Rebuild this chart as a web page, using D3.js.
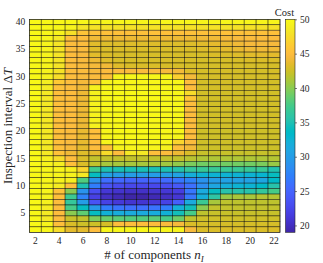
<!DOCTYPE html>
<html>
<head>
<meta charset="utf-8">
<script src="https://cdn.jsdelivr.net/npm/d3@7"></script>
<style>
  body { margin: 0; background: #fff; }
  svg { display: block; }
  text { font-family: "Liberation Serif", "DejaVu Serif", serif; fill: #262626; }
</style>
</head>
<body>
<svg id="chart" width="323" height="263"></svg>
<script>
// number of components (columns) and inspection intervals (rows, top to bottom)
var components = [2, 3, 4, 5, 6, 7, 8, 9, 10, 11, 12, 13, 14, 15, 16, 17, 18, 19, 20, 21, 22];
var intervals = [40, 39, 38, 37, 36, 35, 34, 33, 32, 31, 30, 29, 28, 27, 26, 25, 24, 23, 22, 21,
                 20, 19, 18, 17, 16, 15, 14, 13, 12, 11, 10, 9, 8, 7, 6, 5, 4, 3, 2];

// cost, one row per interval (same order as intervals)
var cost = [
  [49.8,49.8,49.8,49.8,49.6,49.5,49.5,49.5,49.5,49.5,49.5,49.5,49.5,49.5,49.5,49.5,49.5,49.5,49.5,49.5,49.5],
  [49.8,49.8,49.7,49.4,48.2,48.0,48.0,48.0,48.0,48.0,48.0,48.0,48.0,48.0,48.0,48.0,48.0,48.0,48.0,48.0,48.0],
  [49.8,49.7,49.4,47.8,45.6,45.4,45.4,45.4,45.4,45.4,45.4,45.4,45.4,45.4,45.4,45.4,45.4,45.4,45.4,45.4,45.4],
  [49.8,49.6,48.6,45.2,45.0,44.2,44.0,44.0,44.0,44.0,44.0,44.0,44.0,44.0,44.2,44.2,44.4,44.6,44.8,44.8,44.8],
  [49.8,49.5,48.3,45.0,44.8,43.4,43.2,43.2,43.2,43.2,43.2,43.2,43.2,43.2,43.4,43.6,43.8,44.2,44.5,44.5,44.5],
  [49.8,49.4,48.2,45.0,44.7,43.3,43.0,43.0,43.0,43.0,43.0,43.0,43.0,43.0,43.2,43.3,43.5,43.8,44.2,44.2,44.2],
  [49.8,49.4,48.2,45.0,44.6,43.4,43.0,42.9,42.9,42.9,42.9,42.9,42.9,42.9,42.9,43.0,43.0,43.2,43.4,43.5,43.5],
  [49.8,49.4,48.2,45.0,44.6,44.0,43.2,42.9,42.9,42.9,42.9,42.9,42.9,42.9,42.8,42.8,42.8,42.9,43.0,43.0,43.0],
  [49.8,49.4,48.1,45.0,44.7,44.4,44.2,43.3,43.0,43.0,43.0,42.9,42.9,42.8,42.8,42.8,42.8,42.8,42.8,42.8,42.8],
  [49.8,49.3,48.0,45.0,44.8,44.5,44.8,44.8,44.8,44.8,44.8,44.5,44.3,43.2,42.8,42.8,42.8,42.8,42.8,42.8,42.8],
  [49.8,49.2,47.6,45.0,44.7,44.8,45.2,49.4,49.6,49.6,49.6,49.4,46.5,44.3,42.8,42.8,42.8,42.8,42.8,42.8,42.8],
  [49.8,48.9,46.0,45.0,44.4,45.3,49.4,49.7,49.7,49.7,49.7,49.7,49.6,45.0,42.7,42.7,42.7,42.7,42.7,42.7,42.7],
  [49.8,48.7,45.4,45.0,44.2,49.2,49.7,49.7,49.7,49.7,49.7,49.7,49.7,45.0,42.7,42.7,42.7,42.7,42.7,42.7,42.7],
  [49.8,48.6,45.2,45.0,44.0,49.3,49.7,49.8,49.8,49.8,49.8,49.7,49.7,47.5,42.6,42.6,42.6,42.6,42.6,42.6,42.6],
  [49.8,48.5,45.2,45.0,44.0,49.3,49.7,49.8,49.8,49.8,49.8,49.7,49.7,45.8,42.6,42.6,42.6,42.6,42.6,42.6,42.6],
  [49.8,48.5,45.2,45.0,44.0,49.3,49.7,49.8,49.8,49.8,49.8,49.7,49.7,45.0,42.6,42.6,42.6,42.6,42.6,42.6,42.6],
  [49.8,48.5,45.2,45.0,44.0,49.3,49.7,49.8,49.8,49.8,49.8,49.7,49.7,45.0,42.6,42.6,42.6,42.6,42.6,42.6,42.6],
  [49.8,48.5,45.2,45.0,44.0,49.3,49.7,49.8,49.8,49.8,49.8,49.7,49.7,45.0,42.6,42.6,42.6,42.6,42.6,42.6,42.6],
  [49.8,48.5,45.2,45.0,44.0,49.3,49.7,49.8,49.8,49.8,49.8,49.7,49.7,45.0,42.6,42.6,42.6,42.6,42.6,42.6,42.6],
  [49.8,48.5,45.2,45.0,44.0,49.3,49.7,49.8,49.8,49.8,49.8,49.7,49.7,45.0,42.6,42.6,42.6,42.6,42.6,42.6,42.6],
  [49.8,48.5,45.2,44.8,43.8,45.2,49.6,49.8,49.8,49.8,49.8,49.7,49.6,45.0,42.5,42.5,42.5,42.5,42.5,42.5,42.5],
  [49.8,48.5,45.2,44.8,43.8,45.2,49.6,49.8,49.8,49.8,49.8,49.7,49.6,45.0,42.5,42.5,42.5,42.5,42.5,42.5,42.5],
  [49.8,48.5,45.2,44.7,43.7,45.1,49.5,49.7,49.7,49.7,49.7,49.6,47.0,44.8,42.5,42.5,42.5,42.5,42.5,42.5,42.5],
  [49.8,48.5,45.3,44.5,43.6,45.0,45.3,49.3,49.5,49.5,49.4,49.2,45.2,44.3,42.4,42.4,42.4,42.4,42.4,42.4,42.4],
  [49.8,48.6,45.5,44.2,43.2,43.5,47.5,45.0,48.5,48.5,45.2,45.0,44.0,43.0,42.2,42.2,42.2,42.2,42.2,42.2,42.2],
  [49.8,49.2,47.5,45.0,43.0,42.0,42.0,42.0,42.0,42.0,42.0,42.0,42.0,41.6,41.3,41.3,41.3,41.3,41.3,41.3,41.5],
  [49.8,49.5,49.0,45.3,43.0,42.0,41.0,41.0,41.0,41.0,41.0,40.8,40.3,39.5,39.2,39.2,39.2,39.2,39.2,39.5,40.5],
  [49.8,49.6,49.5,49.2,47.0,37.2,35.0,34.8,34.8,34.8,34.8,35.0,35.3,36.5,36.8,36.8,36.8,36.8,36.8,36.8,35.2],
  [49.8,49.6,49.5,49.3,48.5,34.0,30.5,30.0,30.0,30.0,30.0,30.2,30.6,32.0,32.5,32.5,32.5,32.5,32.5,32.8,34.0],
  [49.8,49.6,49.2,49.0,38.0,29.0,25.8,25.3,25.0,25.0,25.0,25.5,26.5,27.5,29.0,30.0,30.5,30.5,30.5,31.0,33.5],
  [49.8,49.6,48.8,45.2,35.0,27.0,23.5,22.8,22.5,22.5,22.5,23.0,24.0,26.0,28.5,31.0,32.0,32.5,32.5,33.5,35.5],
  [49.8,49.4,45.5,40.0,29.0,23.0,21.0,20.6,20.3,20.3,20.6,21.0,21.6,26.5,31.5,34.0,35.5,35.5,35.5,36.5,37.5],
  [49.8,49.3,45.2,37.0,27.5,21.8,20.2,19.5,19.0,19.0,19.5,20.2,21.0,26.5,32.0,36.0,40.5,41.0,41.0,41.5,41.5],
  [49.8,49.2,45.0,36.5,30.0,23.5,22.0,21.2,20.8,20.8,21.2,22.0,24.5,31.5,37.0,41.0,41.8,41.8,41.8,41.8,41.8],
  [49.8,48.8,45.0,37.5,34.0,29.5,27.0,26.2,25.8,25.8,26.2,27.0,32.0,34.5,40.0,42.0,42.0,42.0,42.0,42.0,42.0],
  [49.8,48.6,45.0,40.0,38.5,34.0,32.3,31.8,31.5,31.5,31.8,32.3,34.5,37.5,41.8,42.2,42.2,42.2,42.2,42.2,42.2],
  [49.8,48.5,45.0,42.3,42.0,39.5,38.8,38.3,38.0,38.0,38.3,37.5,39.0,41.8,42.5,42.5,42.5,42.5,42.5,42.5,42.5],
  [49.8,49.5,45.2,43.0,42.5,42.5,42.8,45.0,45.0,45.0,45.0,44.8,44.5,43.0,42.8,42.8,42.8,42.8,42.8,42.8,42.8],
  [49.8,49.6,47.5,43.5,43.5,45.0,49.5,49.6,49.6,49.6,49.6,49.5,49.3,44.5,43.0,43.0,43.0,43.0,43.0,43.0,43.0]
];

var xTicks = [2, 4, 6, 8, 10, 12, 14, 16, 18, 20, 22];
var yTicks = [5, 10, 15, 20, 25, 30, 35, 40];
var costTicks = [20, 25, 30, 35, 40, 45, 50];
var costRange = [19, 50];

// parula colormap (64 steps)
var parula = [
  [0.2422,0.1504,0.6603],[0.2504,0.1650,0.7076],[0.2578,0.1818,0.7511],[0.2647,0.1978,0.7952],
  [0.2706,0.2147,0.8364],[0.2751,0.2342,0.8710],[0.2783,0.2559,0.8991],[0.2803,0.2782,0.9221],
  [0.2813,0.3006,0.9414],[0.2810,0.3228,0.9579],[0.2795,0.3447,0.9717],[0.2760,0.3667,0.9829],
  [0.2699,0.3892,0.9906],[0.2602,0.4123,0.9952],[0.2440,0.4358,0.9988],[0.2206,0.4603,0.9973],
  [0.1963,0.4847,0.9892],[0.1834,0.5074,0.9798],[0.1786,0.5289,0.9682],[0.1764,0.5499,0.9520],
  [0.1687,0.5703,0.9359],[0.1540,0.5902,0.9218],[0.1460,0.6091,0.9079],[0.1380,0.6276,0.8973],
  [0.1248,0.6459,0.8883],[0.1113,0.6635,0.8763],[0.0952,0.6798,0.8598],[0.0689,0.6948,0.8394],
  [0.0297,0.7082,0.8163],[0.0036,0.7203,0.7917],[0.0067,0.7312,0.7660],[0.0433,0.7411,0.7394],
  [0.0964,0.7500,0.7120],[0.1408,0.7584,0.6842],[0.1717,0.7670,0.6554],[0.1938,0.7758,0.6251],
  [0.2161,0.7843,0.5923],[0.2470,0.7918,0.5567],[0.2906,0.7973,0.5188],[0.3406,0.8008,0.4789],
  [0.3909,0.8029,0.4354],[0.4456,0.8024,0.3909],[0.5044,0.7993,0.3480],[0.5616,0.7942,0.3045],
  [0.6174,0.7876,0.2612],[0.6720,0.7793,0.2227],[0.7242,0.7698,0.1910],[0.7738,0.7598,0.1646],
  [0.8203,0.7498,0.1535],[0.8634,0.7406,0.1596],[0.9035,0.7330,0.1774],[0.9393,0.7288,0.2100],
  [0.9728,0.7298,0.2394],[0.9956,0.7434,0.2371],[0.9970,0.7659,0.2199],[0.9952,0.7893,0.2028],
  [0.9892,0.8136,0.1885],[0.9786,0.8386,0.1766],[0.9676,0.8639,0.1643],[0.9610,0.8890,0.1537],
  [0.9597,0.9135,0.1423],[0.9628,0.9373,0.1265],[0.9691,0.9606,0.1064],[0.9769,0.9839,0.0805]
];

var svg = d3.select("#chart");
var plot = {left: 29.3, right: 280, top: 19.3, bottom: 232.3};
var bar = {left: 285.5, width: 9.5};

var x = d3.scaleBand().domain(components).range([plot.left, plot.right]);
var y = d3.scaleBand().domain(intervals).range([plot.top, plot.bottom]);

var colors = parula.map(function(c){ return d3.rgb(c[0]*255, c[1]*255, c[2]*255); });
var color = d3.scaleSequential(d3.piecewise(d3.interpolateRgb, colors))
  .domain(costRange).clamp(true);

var cells = [];
intervals.forEach(function(dt, i){
  components.forEach(function(n, j){
    cells.push({n: n, dt: dt, v: cost[i][j]});
  });
});

// heatmap cells with black edges
svg.append("g")
   .selectAll("rect")
   .data(cells)
   .enter().append("rect")
   .attr("x", function(d){ return x(d.n); })
   .attr("y", function(d){ return y(d.dt); })
   .attr("width", x.bandwidth())
   .attr("height", y.bandwidth())
   .attr("fill", function(d){ return color(d.v); })
   .attr("stroke", "#000")
   .attr("stroke-width", 0.6)
   .attr("stroke-opacity", 0.7);

svg.append("rect")
   .attr("x", plot.left).attr("y", plot.top)
   .attr("width", plot.right - plot.left).attr("height", plot.bottom - plot.top)
   .attr("fill", "none").attr("stroke", "#262626").attr("stroke-width", 0.6);

// axes
var xAxis = svg.append("g")
   .attr("transform", "translate(0," + plot.bottom + ")")
   .call(d3.axisBottom(x).tickValues(xTicks).tickSize(0).tickPadding(5));
var yAxis = svg.append("g")
   .attr("transform", "translate(" + plot.left + ",0)")
   .call(d3.axisLeft(y).tickValues(yTicks).tickSize(0).tickPadding(4));
[xAxis, yAxis].forEach(function(g){
  g.select(".domain").remove();
  g.attr("font-family", null).attr("font-size", 9.5);
  g.selectAll("text").attr("fill", "#262626");
});

// axis titles
var xl = svg.append("text")
   .attr("x", 154).attr("y", 259)
   .attr("text-anchor", "middle")
   .attr("font-size", 13);
xl.append("tspan").text("# of components ");
xl.append("tspan").attr("font-style", "italic").text("n");
xl.append("tspan").attr("font-style", "italic").attr("font-size", 9).attr("dy", 3).text("I");

var yl = svg.append("text")
   .attr("transform", "translate(12,126) rotate(-90)")
   .attr("text-anchor", "middle")
   .attr("font-size", 13);
yl.append("tspan").text("Inspection interval \u0394");
yl.append("tspan").attr("font-style", "italic").text("T");

// colorbar
var cy = d3.scaleLinear().domain(costRange).range([plot.bottom, plot.top]);
var grad = svg.append("defs").append("linearGradient")
   .attr("id", "cbar").attr("x1", 0).attr("y1", 1).attr("x2", 0).attr("y2", 0);
grad.selectAll("stop")
   .data(colors)
   .enter().append("stop")
   .attr("offset", function(d, i){ return i / (colors.length - 1); })
   .attr("stop-color", function(d){ return d; });

svg.append("rect")
   .attr("x", bar.left).attr("y", cy(costRange[1]))
   .attr("width", bar.width).attr("height", cy(costRange[0]) - cy(costRange[1]))
   .attr("fill", "url(#cbar)")
   .attr("stroke", "#262626").attr("stroke-width", 0.6);

var cAxis = svg.append("g")
   .attr("transform", "translate(" + (bar.left + bar.width) + ",0)")
   .call(d3.axisRight(cy).tickValues(costTicks).tickSize(2).tickPadding(3));
cAxis.select(".domain").remove();
cAxis.attr("font-family", null).attr("font-size", 9.5);
cAxis.selectAll("line").attr("stroke", "#262626").attr("stroke-width", 0.6);
cAxis.selectAll("text").attr("fill", "#262626");

svg.append("text")
   .attr("x", 284.5).attr("y", 16)
   .attr("text-anchor", "middle")
   .attr("font-size", 10.5)
   .text("Cost");
</script>
</body>
</html>
